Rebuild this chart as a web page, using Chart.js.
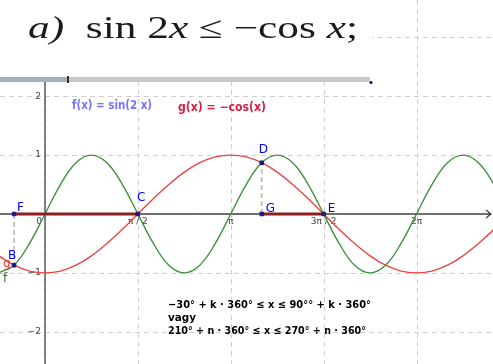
<!DOCTYPE html>
<html>
<head>
<meta charset="utf-8">
<script src="https://cdn.jsdelivr.net/npm/chart.js@4/dist/chart.umd.min.js"></script>
<style>
  html, body { margin: 0; padding: 0; background: #fff; overflow: hidden; }
  #wrap { width: 493px; height: 364px; }
</style>
</head>
<body>
<div id="wrap"><canvas id="graph" width="493" height="364"></canvas></div>
<script>
// x in degrees, every 15°
const angles = [-45, -30, -15, 0, 15, 30, 45, 60, 75, 90, 105, 120, 135, 150, 165, 180, 195,
                210, 225, 240, 255, 270, 285, 300, 315, 330, 345, 360, 375, 390, 405, 420, 435, 450];
// f(x) = sin(2x)
const fValues = [-1, -0.87, -0.5, 0, 0.5, 0.87, 1, 0.87, 0.5, 0, -0.5, -0.87, -1, -0.87, -0.5, 0, 0.5,
                 0.87, 1, 0.87, 0.5, 0, -0.5, -0.87, -1, -0.87, -0.5, 0, 0.5, 0.87, 1, 0.87, 0.5, 0];
// g(x) = -cos(x)
const gValues = [-0.71, -0.87, -0.97, -1, -0.97, -0.87, -0.71, -0.5, -0.26, 0, 0.26, 0.5, 0.71, 0.87, 0.97, 1, 0.97,
                 0.87, 0.71, 0.5, 0.26, 0, -0.26, -0.5, -0.71, -0.87, -0.97, -1, -0.97, -0.87, -0.71, -0.5, -0.26, 0];

// solution intervals on the x axis
const intervalFC = [-30, 90];
const intervalGE = [210, 270];

// named points
const pointNames = ['B', 'C', 'D', 'E', 'F', 'G'];
const pointX = [-30, 90, 210, 270, -30, 210];
const pointY = [-0.87, 0, 0.87, 0, 0, 0];

const xTicks = [0, 90, 180, 270, 360];
const xTickLabels = ['0', 'π / 2', 'π', '3π / 2', '2π'];
const yTicks = [-2, -1, 0, 1, 2, 3];
const yTickLabels = ['−2', '−1', '', '1', '2', ''];

const title = [['a)', true], ['  sin 2', false], ['x', true], [' ≤ −cos ', false], ['x', true], [';', false]];
const fLabel = 'f(x) = sin(2 x)';
const gLabel = 'g(x) = −cos(x)';
const answer = ['−30° + k · 360° ≤ x ≤ 90°° + k · 360°', 'vagy', '210° + n · 360° ≤ x ≤ 270° + n · 360°'];

function pts(xs, ys) {
    return xs.map((x, i) => ({x: x, y: ys[i]}));
}

// label offsets around each named point
const labelOffset = {B: [-6, -6], C: [-1, -13], D: [-3, -10], E: [4, -2], F: [3, -3], G: [4, -2]};

function fitText(ctx, text, x, y, width) {
    const w = ctx.measureText(text).width;
    ctx.save();
    ctx.translate(x, y);
    ctx.scale(width / w, 1);
    ctx.fillText(text, 0, 0);
    ctx.restore();
}

const axesPlugin = {
    id: 'axes',
    beforeDatasetsDraw(chart) {
        const ctx = chart.ctx;
        const xs = chart.scales.x, ys = chart.scales.y;
        const x0 = xs.getPixelForValue(0);
        const y0 = ys.getPixelForValue(0);
        ctx.save();

        // dashed grid
        ctx.strokeStyle = '#cfcfcf';
        ctx.lineWidth = 1;
        ctx.setLineDash([5, 4]);
        ctx.beginPath();
        xTicks.forEach(v => {
            const px = Math.round(xs.getPixelForValue(v)) + 0.5;
            ctx.moveTo(px, 0); ctx.lineTo(px, chart.height);
        });
        yTicks.forEach(v => {
            const py = Math.round(ys.getPixelForValue(v)) + 0.5;
            ctx.moveTo(0, py); ctx.lineTo(chart.width, py);
        });
        ctx.stroke();
        ctx.setLineDash([]);

        // axes
        ctx.strokeStyle = '#444';
        ctx.lineWidth = 1.3;
        ctx.beginPath();
        ctx.moveTo(0, y0); ctx.lineTo(491, y0);
        ctx.moveTo(x0, 0); ctx.lineTo(x0, chart.height);
        ctx.moveTo(486, y0 - 4); ctx.lineTo(491, y0); ctx.lineTo(486, y0 + 4);
        ctx.stroke();

        // tick labels
        ctx.fillStyle = '#444';
        ctx.font = '9px "DejaVu Sans"';
        ctx.textBaseline = 'middle';
        ctx.textAlign = 'center';
        xTicks.forEach((v, i) => {
            let px = xs.getPixelForValue(v);
            if (v === 0) px -= 6;
            ctx.fillText(xTickLabels[i], px, y0 + 8);
        });
        ctx.textAlign = 'right';
        yTicks.forEach((v, i) => {
            if (!yTickLabels[i]) return;
            ctx.fillText(yTickLabels[i], x0 - 4, ys.getPixelForValue(v));
        });
        ctx.restore();
    },
    afterDraw(chart) {
        const ctx = chart.ctx;
        ctx.save();

        // point labels
        const meta = chart.getDatasetMeta(6);
        ctx.fillStyle = '#0000ff';
        ctx.font = '12px "DejaVu Sans"';
        ctx.textBaseline = 'alphabetic';
        ctx.textAlign = 'left';
        meta.data.forEach((el, i) => {
            const off = labelOffset[pointNames[i]];
            ctx.fillText(pointNames[i], el.x + off[0], el.y + off[1]);
        });

        // curve names
        ctx.font = '12px "DejaVu Sans"';
        ctx.fillStyle = '#e03030';
        ctx.fillText('g', 3, 267);
        ctx.fillStyle = '#2a7a2a';
        ctx.fillText('f', 3, 282);

        // function labels
        ctx.font = 'bold 12px "DejaVu Sans"';
        ctx.fillStyle = '#7272ff';
        fitText(ctx, fLabel, 72, 109, 80);
        ctx.fillStyle = '#dc1c40';
        fitText(ctx, gLabel, 178, 111, 88);

        // answer
        ctx.fillStyle = '#000';
        ctx.font = 'bold 11px "DejaVu Sans"';
        fitText(ctx, answer[0], 168, 308, 203);
        fitText(ctx, answer[1], 168, 321, 28);
        fitText(ctx, answer[2], 168, 334, 198);

        // title box
        ctx.fillStyle = '#fff';
        ctx.fillRect(0, 0, 372, 77);
        ctx.fillStyle = '#1a1a1a';
        let total = 0;
        title.forEach(([t, it]) => {
            ctx.font = (it ? 'italic ' : '') + '31px "Liberation Serif"';
            total += ctx.measureText(t).width;
        });
        const sx = 330 / total;
        ctx.save();
        ctx.translate(28, 38);
        ctx.scale(sx, 1);
        let cx = 0;
        title.forEach(([t, it]) => {
            ctx.font = (it ? 'italic ' : '') + '31px "Liberation Serif"';
            ctx.fillText(t, cx, 0);
            cx += ctx.measureText(t).width;
        });
        ctx.restore();

        // slider
        ctx.fillStyle = '#c8c8c8';
        ctx.fillRect(0, 77, 370, 5);
        ctx.fillStyle = '#a7b1bd';
        ctx.fillRect(0, 77, 68, 5);
        ctx.fillStyle = '#333';
        ctx.fillRect(67, 76, 2, 7);
        ctx.fillStyle = '#101060';
        ctx.beginPath();
        ctx.arc(371, 82.5, 1.6, 0, Math.PI * 2);
        ctx.fill();

        ctx.restore();
    }
};

const ctx = document.getElementById('graph').getContext('2d');
new Chart(ctx, {
    type: 'line',
    data: {
        datasets: [
            {data: pts(angles, fValues), borderColor: '#3f913f', borderWidth: 1.4, clip: false, order: 6},
            {data: pts(angles, gValues), borderColor: '#ec4444', borderWidth: 1.4, clip: false, order: 5},
            {data: pts([pointX[4], pointX[0]], [pointY[4], pointY[0]]), borderColor: '#c4c4c4', borderWidth: 2, borderDash: [5, 3], tension: 0, order: 4},
            {data: pts([pointX[5], pointX[2]], [pointY[5], pointY[2]]), borderColor: '#c4c4c4', borderWidth: 2, borderDash: [5, 3], tension: 0, order: 4},
            {data: pts(intervalFC, [0, 0]), borderColor: '#8c1f1f', borderWidth: 3, tension: 0, order: 3},
            {data: pts(intervalGE, [0, 0]), borderColor: '#8c1f1f', borderWidth: 3, tension: 0, order: 3},
            {data: pts(pointX, pointY), showLine: false, pointRadius: 2.5, pointHoverRadius: 0, pointStyle: 'rect',
             pointBackgroundColor: '#1a1a80', pointBorderColor: '#1a1a80', order: 1}
        ]
    },
    options: {
        responsive: false,
        animation: false,
        events: [],
        // fixed padding so the plot area does not depend on point sizes
        layout: {padding: 6},
        elements: {
            point: {radius: 0, hoverRadius: 0},
            line: {tension: 0.4, fill: false}
        },
        plugins: {legend: {display: false}, tooltip: {enabled: false}},
        scales: {
            x: {type: 'linear', display: false, min: -37.79, max: 428.29},
            y: {type: 'linear', display: false, min: -2.445, max: 3.531}
        }
    },
    plugins: [axesPlugin]
});
</script>
</body>
</html>
